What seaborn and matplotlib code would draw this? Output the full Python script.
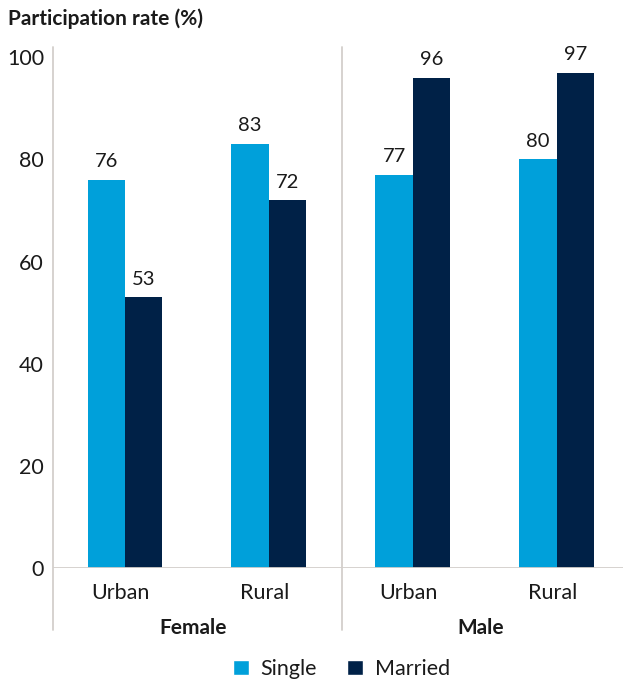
import matplotlib
matplotlib.use("Agg")
import matplotlib.pyplot as plt
import matplotlib.transforms as mtransforms
import seaborn as sns
import pandas as pd
from matplotlib.patches import Patch

# Participation rate (%) by sex, area and marital status
sexes = ["Female", "Female", "Male", "Male"]
areas = ["Urban", "Rural", "Urban", "Rural"]
single = [76, 83, 77, 80]
married = [53, 72, 96, 97]
statuses = ["Single", "Married"]
colors = {"Single": "#00A0DA", "Married": "#002147"}

rows = []
for s, a, v1, v2 in zip(sexes, areas, single, married):
    key = f"{s} {a}"
    rows.append({"group": key, "status": "Single", "rate": v1})
    rows.append({"group": key, "status": "Married", "rate": v2})
df = pd.DataFrame(rows)
order = [f"{s} {a}" for s, a in zip(sexes, areas)]

sns.set_theme(style="white")
plt.rcParams["font.family"] = ["Lato", "DejaVu Sans"]
line_col = "#D3CFCB"
text_col = "#1a1a1a"

fig = plt.figure(figsize=(6.23, 6.82), dpi=100)
ax = fig.add_axes([0.085, 0.167, 0.915, 0.764])

sns.barplot(data=df, x="group", y="rate", hue="status", order=order,
            hue_order=statuses, palette=colors, width=0.52, saturation=1,
            ax=ax, legend=False, errorbar=None, linewidth=0)

ax.set_ylim(0, 102)
ax.set_xlim(-0.5, 3.46)
ax.set_yticks(range(0, 101, 20))
ax.tick_params(axis="both", length=0, labelsize=15.5, colors=text_col)
ax.tick_params(axis="y", pad=6.5)
ax.tick_params(axis="x", pad=11)
ax.set_xticks(range(4))
ax.set_xticklabels(areas)
shift = mtransforms.ScaledTranslation(-4 / 100, 0, fig.dpi_scale_trans)
for lbl in ax.get_xticklabels():
    lbl.set_transform(lbl.get_transform() + shift)
ax.set_xlabel("")
ax.set_ylabel("")
for sp in ax.spines.values():
    sp.set_visible(False)

# baseline at zero and frame lines extending into the group-label area
ax.axhline(0, color=line_col, lw=1.3, zorder=3)
ax.plot([-0.5, -0.5], [-12.2, 102], color=line_col, lw=1.3, clip_on=False)
ax.plot([1.505, 1.505], [-12.2, 102], color=line_col, lw=1.3, clip_on=False)

# value labels
for cont in ax.containers:
    ax.bar_label(cont, fmt="%d", padding=7, fontsize=14.5, color=text_col)

# sex group labels
for i, s in enumerate(["Female", "Male"]):
    ax.text(0.5 + 2 * i, -11.8, s, ha="center", va="center", fontsize=15,
            fontweight="bold", color=text_col,
            transform=ax.transData + shift)

fig.text(0.013, 0.972, "Participation rate (%)", ha="left", va="center",
         fontsize=15, fontweight="bold", color=text_col)

handles = [Patch(facecolor=colors[s], label=s) for s in statuses]
fig.legend(handles=handles, loc="center", bbox_to_anchor=(0.548, 0.019),
           ncol=2, frameon=False, fontsize=15.5, handlelength=0.75,
           handleheight=0.75, handletextpad=0.55, columnspacing=1.4,
           labelcolor=text_col)

fig.savefig("out.png", dpi=100)
